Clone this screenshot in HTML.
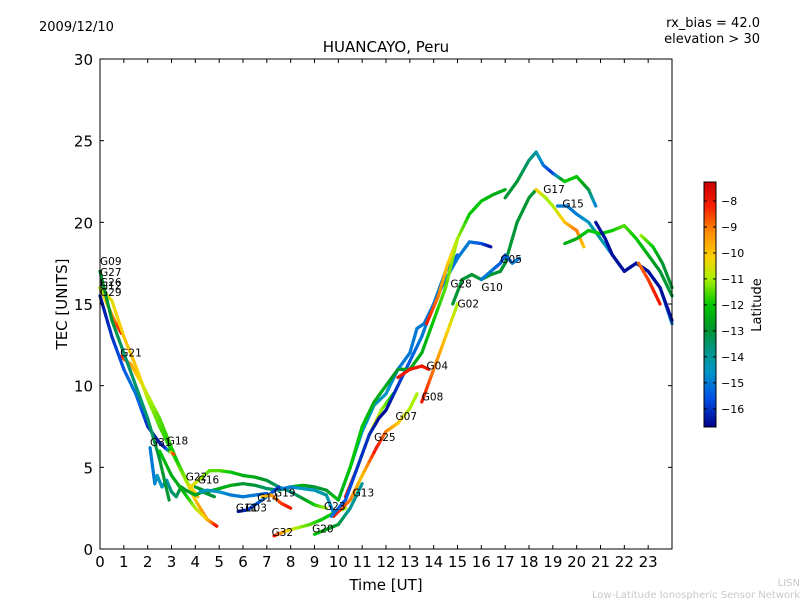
<!DOCTYPE html>
<html><head><meta charset="utf-8"><style>
body{margin:0;background:#fff;}
svg{display:block;font-family:"DejaVu Sans","Liberation Sans",sans-serif;}
</style></head><body>
<svg id="chart" width="800" height="600" viewBox="0 0 800 600">
<rect width="800" height="600" fill="#fff"/>
<text x="39" y="31" font-size="13">2009/12/10</text>
<text x="760" y="27" font-size="13" text-anchor="end">rx_bias = 42.0</text>
<text x="760" y="43" font-size="13" text-anchor="end">elevation &gt; 30</text>
<text x="386" y="52" font-size="15" text-anchor="middle">HUANCAYO, Peru</text>
<g id="plot"></g>
<rect x="100" y="59" width="572" height="490" fill="none" stroke="#000" stroke-width="1"/>
<g id="axes"></g>
<text x="386" y="590" font-size="15" text-anchor="middle">Time [UT]</text>
<text transform="translate(67,304) rotate(-90)" font-size="15" text-anchor="middle">TEC [UNITS]</text>
<defs><linearGradient id="cbg" x1="0" y1="1" x2="0" y2="0"></linearGradient></defs>
<rect x="704" y="182" width="12" height="245" fill="url(#cbg)" stroke="#000" stroke-width="1"/>
<g id="cbticks"></g>
<text transform="translate(761,305) rotate(-90)" font-size="13" text-anchor="middle">Latitude</text>
<text x="800" y="586" font-size="10" fill="#c8c8c8" text-anchor="end">LISN</text>
<text x="800" y="598" font-size="10" fill="#c8c8c8" text-anchor="end">Low-Latitude Ionospheric Sensor Network</text>
</svg>
<script>
const xTicks=[0,1,2,3,4,5,6,7,8,9,10,11,12,13,14,15,16,17,18,19,20,21,22,23];
const yTicks=[0,5,10,15,20,25,30];
const cbTicks=[-8,-9,-10,-11,-12,-13,-14,-15,-16];
const latMin=-16.7, latMax=-7.27;
const cmapLat=[-16.7,-15.6,-14.6,-13.6,-12.9,-12,-11,-10.2,-9.2,-8.2,-7.27];
const cmapCol=[[0,0,140],[0,80,230],[0,150,200],[0,150,120],[0,150,40],[0,200,0],[170,240,0],[250,210,0],[255,140,0],[250,30,0],[200,0,0]];
const trackNames=["A","B","C","D","E","F","G","H","I","J","J2","K","L","M","N","O","P","Q","R","S","T","U","V","V2","W","X","Y","Z","AA","AB","AC","AD"];
const trackT=[
[0,0.3,0.6,0.9],
[0,0.5,1,1.5,2,2.5,3,3.5,4,4.5,4.9],
[0.85,1.3,1.8,2.5,3.2,3.7,4.1],
[0,0.5,1,1.5,2,2.5,2.8,3.1],
[2.1,2.3,2.4,2.6,2.8,3,3.2,3.4,3.6,4,4.3,4.8],
[0,0.5,1,1.5,2,2.5,2.9],
[2.5,3,3.5,4,4.5,4.9],
[3.8,4.2,4.6,5,5.5,6,6.5,7,7.5,8,8.5,9,9.5],
[4,4.5,5,5.5,6,6.5,7,7.5,8,8.5,9,9.5,10],
[4.2,4.5,5,5.5,6,6.5,7],
[7.3,8,8.5,9,9.5,9.8],
[5.8,6.2,6.6,7,7.5],
[6.8,7.2,7.6,8],
[7.3,7.8,8.3,8.8,9.3,9.8,10.3],
[9,9.5,10,10.5,11],
[10.3,10.8,11.3,11.8,12.3],
[9.8,10.5,11,11.6,12,12.5,13,13.3],
[9.7,10.3,10.8,11.3,11.7,12,12.5,13,13.5,14,14.5,15],
[10,10.5,11,11.5,12,12.5,13,13.3,13.6,14,14.5,15,15.5,16,16.4],
[10,10.5,11,11.5,12,12.5,13,13.5,14,14.5,15],
[12.5,13,13.5,13.8],
[13.5,14,14.5,15],
[13.7,14.2,14.6,15,15.5,16,16.5,17],
[17,17.5,18,18.3,18.6,19,19.5,20,20.5,20.8],
[14.8,15.2,15.6,16,16.4,16.8,17,17.5,18,18.3],
[16,16.4,16.8,17,17.3,17.6],
[18.3,18.7,19,19.5,20,20.3],
[19.2,19.6,20,20.5,21,21.5,22,22.5,23,23.5,24],
[19.5,20,20.5,21,21.5,22,22.5,23,23.5,24],
[20.8,21.2,21.5,22,22.5,23,23.5,24],
[22.6,23,23.5],
[22.7,23.2,23.6,24]];
const trackV=[
[16,15,14,13.2],
[16,15.2,13,11.2,9.2,7.5,6,4.5,3,1.8,1.4],
[11.8,11.3,10,8,5.5,4,3.2],
[15.5,13,11,9.5,7.5,6.5,6.1,5.8],
[6.2,4,4.5,3.8,4.2,3.5,3.2,3.8,3.6,3.3,3.5,3.2],
[17,14,12,10,8,5.5,3],
[6,4.5,3.5,2.5,1.8,1.4],
[3.8,4.3,4.8,4.8,4.7,4.5,4.4,4.2,3.8,3.5,3.1,2.7,2.5],
[3.8,3.5,3.7,3.9,4,3.9,3.7,3.6,3.8,3.9,3.8,3.6,3],
[3.5,3.6,3.5,3.3,3.2,3.3,3.4],
[3.6,3.8,3.7,3.6,3.3,2.2],
[2.3,2.4,2.8,3.2,3.8],
[3.2,3.3,2.8,2.5],
[0.8,1.1,1.3,1.5,1.8,2.2,2.5],
[0.9,1.2,1.5,2.5,4],
[3.2,5,7,8.5,9.5],
[2,3,4.5,6.2,7.2,7.7,8.6,9.5],
[2,3,5,7,8,8.5,10,11.5,13,15,17,18],
[3,5,7.2,8.8,9.5,11,12,13.5,13.8,15,16.5,17.8,18.8,18.7,18.5],
[3,5,7.5,9,10,11,11,12,14,16,19],
[10.5,11,11.2,11],
[9,11,13,15],
[13.8,15.5,17.5,19,20.5,21.3,21.7,22],
[21.5,22.5,23.8,24.3,23.5,23,22.5,22.8,22,21],
[15,16.5,16.8,16.5,16.8,17,17.5,20,21.5,22],
[16.5,17,17.5,18,17.5,17.8],
[22,21.5,21,20,19.5,18.5],
[21,21,20.5,20,19,18,17,17.5,17,16,13.8],
[18.7,19,19.5,19.3,19.5,19.8,19,18,17,15.5],
[20,19,18,17,17.5,17,16,14],
[17.5,16.5,15],
[19.2,18.5,17.5,16]];
const trackLat=[
[-11,-10,-9,-8],
[-11,-10.5,-10,-10,-11,-11.5,-12,-11,-10,-9,-8],
[-8,-9.5,-10.5,-11.5,-12,-11,-9.5],
[-16.5,-16,-15.5,-15,-16,-16.5,-16,-8],
[-15,-15,-14.5,-14.5,-14.5,-13.5,-13.5,-13,-13,-12.5,-13,-13],
[-13,-13,-13.5,-13.5,-13.5,-13,-13],
[-12,-12.5,-12.5,-11,-10,-8],
[-10,-11,-11.5,-11.5,-12,-12.5,-12.5,-13,-13.5,-14,-13,-12,-11],
[-13,-13,-12.5,-12.5,-13,-13,-13.5,-13,-12.5,-12.5,-13,-13,-12],
[-14.5,-14.5,-14.5,-15,-15,-15,-15.5],
[-15,-15,-14.5,-14.5,-14,-15],
[-16.5,-16,-15.5,-15,-16],
[-10,-9.5,-8.5,-8],
[-8,-10,-11,-11.5,-12,-12,-11],
[-12,-12.5,-13,-14,-14],
[-8,-9,-10,-11,-12],
[-8,-9,-10,-8,-9,-10,-11,-11],
[-15,-15.5,-16,-16,-16.5,-16.5,-16,-15.5,-15,-15,-15,-15.5],
[-14.5,-14.5,-14.5,-14.5,-14.5,-15,-15,-15,-15,-15,-15,-15,-15,-15.5,-16.5],
[-12.5,-12,-12,-12.5,-12.5,-13,-12.5,-12.5,-12,-11.5,-11],
[-8,-8,-8,-8],
[-8,-9,-10,-11],
[-8,-9,-10,-11,-12,-12,-12.5,-12.5],
[-13,-13,-13.5,-14,-15,-16,-12,-12,-13,-15],
[-13,-13,-13,-13,-13,-13,-13,-13,-13,-13],
[-15,-15,-15.5,-15.5,-15,-15],
[-10,-11,-11,-10,-9,-10],
[-15,-15,-15,-14.5,-14,-15,-15,-15,-15,-15,-15],
[-12.5,-12.5,-12,-12,-12,-11.5,-12,-12.5,-13,-13],
[-16.5,-16.5,-16.5,-16.5,-16.5,-16.5,-16.5,-16.5],
[-9,-8.5,-8],
[-11,-12,-13,-13]];
const labelNames=["G09","G27","G26","G12","G29","G21","G31","G18","G22","G16","G11","G03","G14","G19","G32","G20","G23","G13","G25","G07","G08","G04","G02","G28","G10","G05","G17","G15"];
const labelT=[0,0,0,0,0,0.85,2.1,2.8,3.6,4.1,5.7,6.1,6.6,7.3,7.2,8.9,9.4,10.6,11.5,12.4,13.5,13.7,15.0,14.7,16.0,16.8,18.6,19.4];
const labelV=[17.4,16.7,16.1,15.9,15.5,11.8,6.3,6.4,4.2,4.0,2.3,2.3,2.9,3.2,0.8,1.0,2.4,3.2,6.6,7.9,9.1,11.0,14.8,16.0,15.8,17.5,21.8,20.9];

const X0=100,X1=672,Y0=549,Y1=59;
const xs=t=>X0+(t/24)*(X1-X0);
const ys=v=>Y0-(v/30)*(Y0-Y1);
const cbY=l=>427-(l-latMin)/(latMax-latMin)*245;
function color(l){
  if(l<=cmapLat[0])return `rgb(${cmapCol[0]})`;
  for(let i=1;i<cmapLat.length;i++){
    if(l<=cmapLat[i]){const f=(l-cmapLat[i-1])/(cmapLat[i]-cmapLat[i-1]);
      const c=cmapCol[i-1].map((a,k)=>Math.round(a+(cmapCol[i][k]-a)*f));return `rgb(${c})`;}
  }
  return `rgb(${cmapCol[cmapCol.length-1]})`;
}
const NS="http://www.w3.org/2000/svg";
function mk(tag,attrs,parent){const e=document.createElementNS(NS,tag);for(const k in attrs)e.setAttribute(k,attrs[k]);parent.appendChild(e);return e;}
const plot=document.getElementById('plot');
trackT.forEach((ts,i)=>{
  const g=mk('g',{},plot);
  
  
  const vs=trackV[i],ls=trackLat[i];
  for(let j=0;j<ts.length-1;j++){
    const n=6;
    for(let k=0;k<n;k++){
      const f0=k/n,f1=(k+1)/n;
      const ta=ts[j]+(ts[j+1]-ts[j])*f0,tb=ts[j]+(ts[j+1]-ts[j])*f1;
      const va=vs[j]+(vs[j+1]-vs[j])*f0,vb=vs[j]+(vs[j+1]-vs[j])*f1;
      const lm=ls[j]+(ls[j+1]-ls[j])*(f0+f1)/2;
      const s=mk('line',{x1:xs(ta),y1:ys(va),x2:xs(tb),y2:ys(vb),stroke:color(lm),'stroke-width':3.2,'stroke-linecap':'round'},g);
      
      
    }
  }
});
labelNames.forEach((n,i)=>{
  const t=mk('text',{x:xs(labelT[i]),y:ys(labelV[i]),'font-size':10.5},plot);
  
  
  t.textContent=n;
});
const axes=document.getElementById('axes');
xTicks.forEach(v=>{
  const x=xs(v);
  const l1=mk('line',{x1:x,y1:Y0,x2:x,y2:Y0-4,stroke:'#000'},axes);
  
  
  mk('line',{x1:x,y1:Y1,x2:x,y2:Y1+4,stroke:'#000'},axes);
  const t=mk('text',{x:x,y:Y0+18,'font-size':15,'text-anchor':'middle'},axes);
  
  
  t.textContent=v;
});
yTicks.forEach(v=>{
  const y=ys(v);
  const l1=mk('line',{x1:X0,y1:y,x2:X0+4,y2:y,stroke:'#000'},axes);
  
  
  mk('line',{x1:X1,y1:y,x2:X1-4,y2:y,stroke:'#000'},axes);
  const t=mk('text',{x:X0-7,y:y+6,'font-size':15,'text-anchor':'end'},axes);
  
  
  t.textContent=v;
});
const grad=document.getElementById('cbg');
cmapLat.forEach((l,i)=>{
  mk('stop',{offset:((l-latMin)/(latMax-latMin)*100)+'%','stop-color':`rgb(${cmapCol[i]})`},grad);
});
const cbt=document.getElementById('cbticks');
cbTicks.forEach(v=>{
  const y=cbY(v);
  mk('line',{x1:704,y1:y,x2:707,y2:y,stroke:'#000'},cbt);
  mk('line',{x1:716,y1:y,x2:713,y2:y,stroke:'#000'},cbt);
  const t=mk('text',{x:721,y:y+4,'font-size':11},cbt);
  
  
  t.textContent='\u2212'+Math.abs(v);
});
</script>
</body></html>
